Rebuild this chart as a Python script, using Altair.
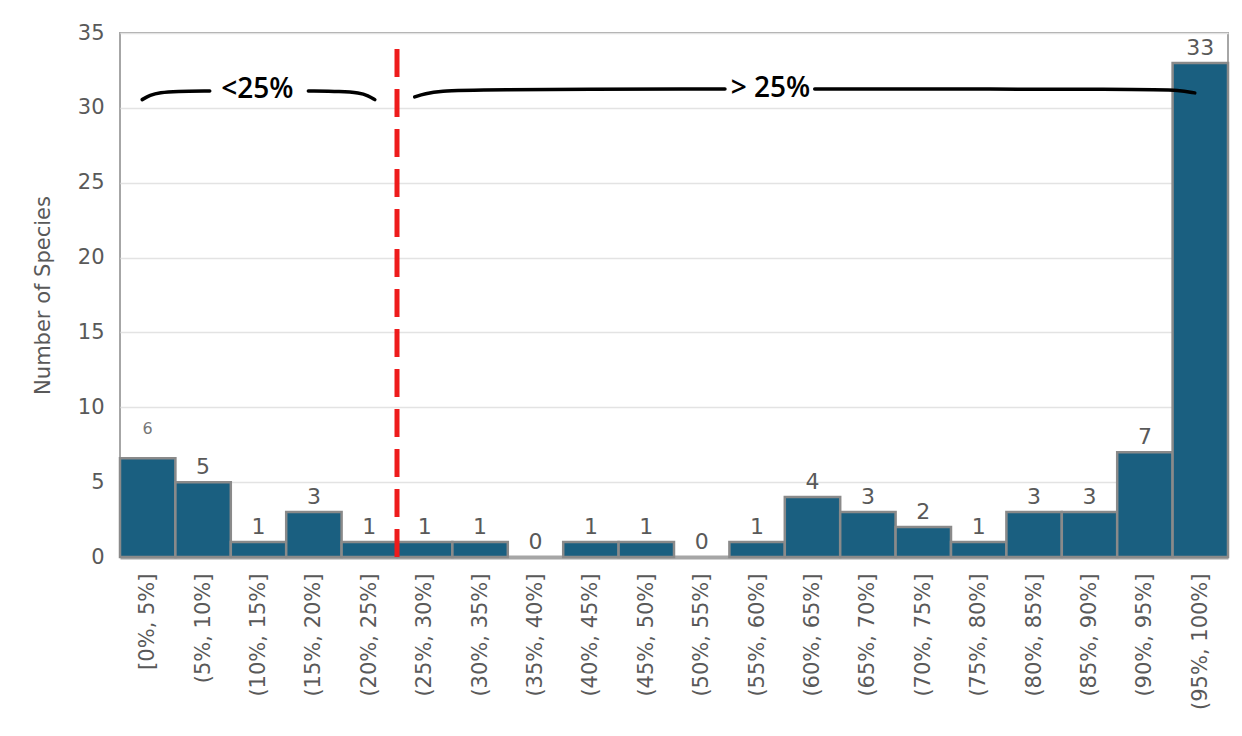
import altair as alt
import pandas as pd

# ---------------- data ----------------
bin_labels = ["[0%, 5%]", "(5%, 10%]", "(10%, 15%]", "(15%, 20%]", "(20%, 25%]",
              "(25%, 30%]", "(30%, 35%]", "(35%, 40%]", "(40%, 45%]", "(45%, 50%]",
              "(50%, 55%]", "(55%, 60%]", "(60%, 65%]", "(65%, 70%]", "(70%, 75%]",
              "(75%, 80%]", "(80%, 85%]", "(85%, 90%]", "(90%, 95%]", "(95%, 100%]"]
bin_lo = [0, 5, 10, 15, 20, 25, 30, 35, 40, 45, 50, 55, 60, 65, 70, 75, 80, 85, 90, 95]
bin_hi = [5, 10, 15, 20, 25, 30, 35, 40, 45, 50, 55, 60, 65, 70, 75, 80, 85, 90, 95, 100]
bar_heights = [6.6, 5, 1, 3, 1, 1, 1, 0, 1, 1, 0, 1, 4, 3, 2, 1, 3, 3, 7, 33]
count_labels = ["6", "5", "1", "3", "1", "1", "1", "0", "1", "1", "0", "1",
                "4", "3", "2", "1", "3", "3", "7", "33"]

threshold = 25
threshold_top = 34.2

# bracket annotation (data coordinates: percent, species)
brace_seg = ["L1", "L1", "L1", "L1", "L1", "L2", "L2", "L2", "L2", "L2",
             "R1", "R1", "R1", "R1", "R1", "R2", "R2", "R2", "R2"]
brace_x = [2.0, 2.7, 3.6, 5.0, 8.1, 17.0, 20.0, 21.6, 22.4, 23.0,
           26.6, 27.5, 29.0, 31.5, 54.6, 62.7, 93.5, 95.5, 97.0]
brace_y = [30.55, 30.85, 31.02, 31.1, 31.13, 31.13, 31.1, 31.0, 30.82, 30.55,
           30.73, 30.95, 31.12, 31.22, 31.26, 31.26, 31.25, 31.17, 31.0]
brace_text = ["<25%", "> 25%"]
brace_text_x = [12.4, 58.7]
brace_text_y = [31.2, 31.25]

# ---------------- tables ----------------
bars = pd.DataFrame({
    "lo": bin_lo, "hi": bin_hi, "h": bar_heights, "lab": count_labels,
    "mid": [(a + b) / 2 for a, b in zip(bin_lo, bin_hi)],
    "idx": list(range(len(bin_lo))),
})
bars_nz = bars[bars["h"] > 0]
brace = pd.DataFrame({"seg": brace_seg, "x": brace_x, "y": brace_y,
                      "ord": list(range(len(brace_x)))})
btext = pd.DataFrame({"t": brace_text, "x": brace_text_x, "y": brace_text_y})
thr = pd.DataFrame({"x": [threshold], "y": [0], "y2": [threshold_top]})

GRAY = "#595959"
FONT = "DejaVu Sans"

label_js = "[" + ",".join("'" + s + "'" for s in bin_labels) + "]"

xscale = alt.Scale(domain=[0, 100], nice=False, zero=False)
yscale = alt.Scale(domain=[0, 35], nice=False)

xaxis = alt.Axis(values=list(bars["mid"]), labelExpr=label_js + "[floor(datum.value/5)]",
                 labelAngle=-90, labelAlign="right", labelBaseline="middle",
                 labelFontSize=21, labelColor=GRAY, labelFont=FONT, labelPadding=16,
                 ticks=False, grid=False, domain=True, domainColor="#a6a6a6",
                 domainWidth=4, title=None, labelOverlap=False)
yaxis = alt.Axis(values=[0, 5, 10, 15, 20, 25, 30, 35], labelFontSize=21,
                 labelColor=GRAY, labelFont=FONT, labelPadding=16, ticks=False,
                 domain=False, grid=True, gridColor="#e3e3e3", gridWidth=1.5,
                 title="Number of Species", titleFontSize=21, titleColor=GRAY,
                 titleFont=FONT, titleFontWeight="normal", titlePadding=24)

bar_layer = alt.Chart(bars_nz).mark_rect(color="#1a5f80", stroke="#8a8a8a",
                                         strokeWidth=2.5).encode(
    x=alt.X("lo:Q", scale=xscale, axis=xaxis),
    x2="hi:Q",
    y=alt.Y("h:Q", scale=yscale, axis=yaxis),
    y2=alt.datum(0),
)

lab_main = alt.Chart(bars[bars["idx"] > 0]).mark_text(
    fontSize=22, color=GRAY, font=FONT, baseline="middle", dy=-15).encode(
    x="mid:Q", y="h:Q", text="lab:N")
lab_first = alt.Chart(bars[bars["idx"] == 0]).mark_text(
    fontSize=16, color="#777777", font=FONT, baseline="middle", dy=-29).encode(
    x="mid:Q", y="h:Q", text="lab:N")

thr_layer = alt.Chart(thr).mark_rule(color="#ee1c1c", strokeWidth=5,
                                     strokeDash=[28, 12]).encode(
    x="x:Q", y="y:Q", y2="y2:Q")

brace_layer = alt.Chart(brace).mark_line(color="black", strokeWidth=3.5,
                                         interpolate="basis",
                                         strokeCap="round").encode(
    x="x:Q", y="y:Q", detail="seg:N", order="ord:Q")
btext_layer = alt.Chart(btext).mark_text(fontSize=28, font="Open Sans",
                                         fontWeight=600, color="black",
                                         baseline="middle").encode(
    x="x:Q", y="y:Q", text="t:N")

chart = alt.layer(bar_layer, lab_main, lab_first, thr_layer, brace_layer,
                  btext_layer).properties(
    width=1108, height=524,
    autosize=alt.AutoSizeParams(type="none"),
    padding={"left": 112, "top": 25, "right": 6, "bottom": 171},
    background="white",
).configure_view(stroke="#a6a6a6", strokeWidth=2)

chart.save("out.html", embed_options={"renderer": "svg", "actions": False})
